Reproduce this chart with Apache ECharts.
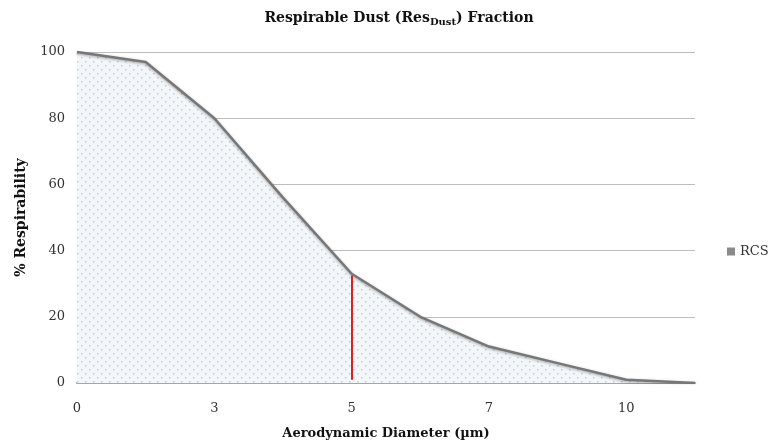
<!DOCTYPE html>
<html>
<head>
<meta charset="utf-8">
<script src="https://cdn.jsdelivr.net/npm/echarts@6/dist/echarts.min.js"></script>
<style>
  html, body { margin: 0; padding: 0; background: #fff; }
  #main { width: 783px; height: 445px; }
</style>
</head>
<body>
<div id="main"></div>
<script>
// data
var diameters = ['0', '1.5', '3', '4', '5', '6', '7', '8.5', '10', '11.5'];
var rcsValues = [100, 97, 80, 56, 33, 20, 11, 6, 1, 0];
var yTicks = [0, 20, 40, 60, 80, 100];
var cutX = '5';
var cutTop = 32.5;
var cutBottom = 1;

var serif = 'DejaVu Serif';

// dotted fill like the excel pattern
var pat = document.createElement('canvas');
pat.width = 8; pat.height = 8;
var pctx = pat.getContext('2d');
pctx.fillStyle = '#f3f7fa';
pctx.fillRect(0, 0, 8, 8);
pctx.fillStyle = '#bfcedb';
pctx.fillRect(1, 1, 1.5, 1.5);
pctx.fillRect(5, 5, 1.5, 1.5);

var myChart = echarts.init(document.getElementById('main'));

var option = {
  animation: false,
  title: {
    text: 'Respirable Dust (Res{sub|Dust}) Fraction',
    left: 394,
    textAlign: 'center',
    top: 5,
    textStyle: {
      fontFamily: serif,
      fontSize: 14,
      fontWeight: 'bold',
      color: '#111',
      rich: {
        sub: {
          fontFamily: serif,
          fontSize: 10,
          fontWeight: 'bold',
          color: '#111',
          verticalAlign: 'bottom',
          padding: [7, 0, 0, 0]
        }
      }
    }
  },
  legend: {
    data: ['RCS'],
    left: 722,
    top: 240,
    orient: 'vertical',
    icon: 'rect',
    itemWidth: 8,
    itemHeight: 8,
    itemGap: 4,
    textStyle: { fontFamily: serif, fontSize: 13, color: '#333' }
  },
  grid: {
    left: 77,
    right: 88,
    top: 52,
    bottom: 62,
    outerBoundsMode: 'none'
  },
  xAxis: {
    type: 'category',
    data: diameters,
    boundaryGap: false,
    name: 'Aerodynamic Diameter (µm)',
    nameLocation: 'middle',
    nameGap: 44,
    nameTextStyle: { fontFamily: serif, fontSize: 13, fontWeight: 'bold', color: '#111' },
    axisTick: { show: false },
    axisLine: { lineStyle: { color: '#a6a6a6', width: 2 } },
    axisLabel: {
      interval: 1,
      margin: 19,
      fontFamily: serif,
      fontSize: 13,
      color: '#333'
    },
    splitLine: { show: false }
  },
  yAxis: {
    type: 'value',
    min: yTicks[0],
    max: yTicks[yTicks.length - 1],
    interval: 20,
    name: '% Respirability',
    nameLocation: 'middle',
    nameGap: 49,
    nameTextStyle: { fontFamily: serif, fontSize: 14, fontWeight: 'bold', color: '#111' },
    axisLine: { show: true, lineStyle: { color: '#bfbfbf', width: 1 } },
    axisTick: { show: false },
    axisLabel: {
      margin: 12,
      fontFamily: serif,
      fontSize: 13,
      color: '#333'
    },
    splitLine: { lineStyle: { color: '#bdbdbd', width: 1 } }
  },
  series: [
    {
      name: 'RCS',
      type: 'line',
      data: rcsValues,
      symbol: 'none',
      itemStyle: { color: '#8a8a8a' },
      lineStyle: {
        color: '#777',
        width: 2.5,
        shadowColor: 'rgba(0,0,0,0.35)',
        shadowBlur: 3,
        shadowOffsetY: 1
      },
      areaStyle: {
        color: { image: pat, repeat: 'repeat' },
        opacity: 1
      },
      markLine: {
        silent: true,
        symbol: 'none',
        label: { show: false },
        lineStyle: { color: '#e0201c', width: 2, type: 'solid' },
        data: [
          [
            { coord: [cutX, cutTop] },
            { coord: [cutX, cutBottom] }
          ]
        ]
      }
    }
  ]
};

option && myChart.setOption(option);
</script>
</body>
</html>
